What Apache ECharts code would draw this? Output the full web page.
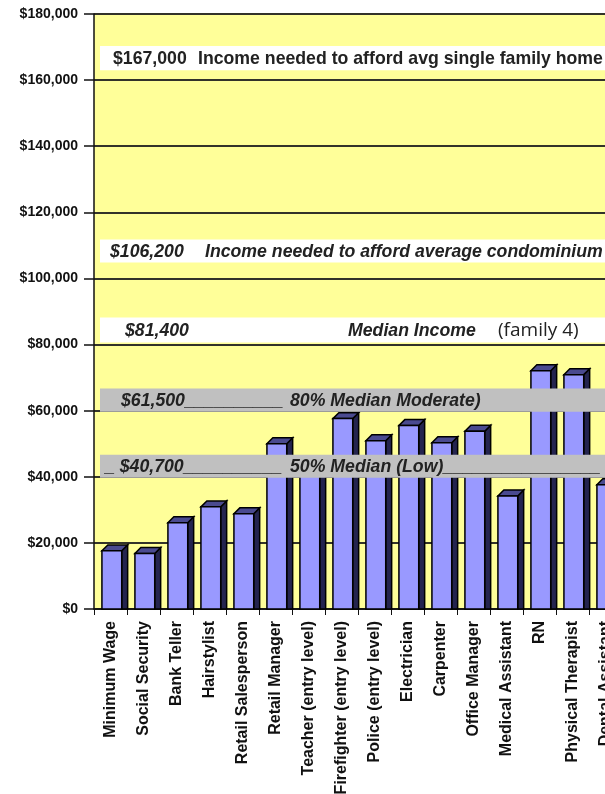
<!DOCTYPE html>
<html>
<head>
<meta charset="utf-8">
<script src="https://cdn.jsdelivr.net/npm/echarts@6/dist/echarts.min.js"></script>
<style>
  html, body { margin: 0; padding: 0; background: #ffffff; }
  #chart { width: 605px; height: 794px; }
</style>
</head>
<body>
<div id="chart"></div>
<script>
  // occupations and yearly income
  const jobs = ['Minimum Wage', 'Social Security', 'Bank Teller', 'Hairstylist', 'Retail Salesperson',
    'Retail Manager', 'Teacher (entry level)', 'Firefighter (entry level)', 'Police (entry level)',
    'Electrician', 'Carpenter', 'Office Manager', 'Medical Assistant', 'RN', 'Physical Therapist',
    'Dental Assistant']
  const salaries = [17600, 16800, 26100, 30900, 28800, 50000, 44000, 57600, 50900, 55500, 50300,
    53800, 34200, 72100, 70900, 37600]

  // reference bands (income levels)
  const bandLow = [163000, 104800, 80600, 59700, 39700]
  const bandHigh = [170300, 111800, 88200, 66700, 46700]
  const bandText = [
    ['$167,000', 'Income needed to afford avg single family home'],
    ['$106,200', 'Income needed to afford average condominium'],
    ['$81,400', 'Median Income', '(family 4)'],
    ['$61,500__________', '80% Median Moderate)'],
    ['_ $40,700__________', '50% Median (Low)________________']
  ]

  // layout of the band texts (x offsets from the plot's left edge)
  const bandLayout = [
    {fill: '#ffffff', italic: false, xs: [19, 104]},
    {fill: '#ffffff', italic: true, xs: [16, 111]},
    {fill: '#ffffff', italic: true, xs: [31, 254, 404]},
    {fill: '#c0c0c0', italic: true, xs: [27, 196]},
    {fill: '#c0c0c0', italic: true, xs: [11, 196]}
  ]

  let myChart = echarts.init(document.getElementById('chart'))

  function renderBar(params, api) {
    let idx = api.value(0)
    let top = api.coord([idx, api.value(1)])
    let base = api.coord([idx, 0])
    let bw = api.size([1, 0])[0]
    let w = bw * 0.6, d = bw * 0.18
    let x0 = top[0] - bw * 0.26
    let x1 = x0 + w
    let y = top[1]
    return {
      type: 'group',
      children: [
        {
          type: 'polygon',
          shape: {points: [[x1, y], [x1 + d, y - d], [x1 + d, base[1]], [x1, base[1]]]},
          style: {fill: '#24244f', stroke: '#000000', lineWidth: 1.5}
        },
        {
          type: 'polygon',
          shape: {points: [[x0, y], [x1, y], [x1 + d, y - d], [x0 + d, y - d]]},
          style: {fill: '#4a4a90', stroke: '#000000', lineWidth: 1.5}
        },
        {
          type: 'rect',
          shape: {x: x0, y: y, width: w, height: base[1] - y},
          style: {fill: '#9999ff', stroke: '#000000', lineWidth: 1.5}
        }
      ]
    }
  }

  function renderBand(params, api) {
    let i = params.dataIndex
    let cs = params.coordSys
    let yTop = api.coord([0, bandHigh[i]])[1]
    let yBot = api.coord([0, bandLow[i]])[1]
    let mid = (yTop + yBot) / 2
    let lay = bandLayout[i]
    let children = [{
      type: 'rect',
      shape: {x: cs.x + 6, y: yTop, width: cs.width + 20, height: yBot - yTop},
      style: {fill: lay.fill}
    }]
    bandText[i].forEach((t, k) => {
      let plain = t.charAt(0) === '('
      children.push({
        type: 'text',
        style: {
          x: cs.x + lay.xs[k],
          y: mid + 1,
          text: t,
          fill: '#222222',
          fontFamily: plain ? '"Open Sans"' : '"Liberation Sans"',
          fontSize: plain ? 19 : 17.7,
          fontWeight: plain ? 'normal' : 'bold',
          fontStyle: (lay.italic && !plain) ? 'italic' : 'normal',
          verticalAlign: 'middle',
          align: 'left'
        }
      })
    })
    return {type: 'group', children: children}
  }

  let option = {
    animation: false,
    backgroundColor: '#ffffff',
    grid: {
      left: 94,
      top: 14,
      width: 528,
      height: 595,
      outerBoundsMode: 'none',
      show: true,
      backgroundColor: '#ffff99',
      borderWidth: 0
    },
    xAxis: {
      type: 'category',
      data: jobs,
      boundaryGap: true,
      axisLine: {lineStyle: {color: '#111111', width: 1.5}},
      axisTick: {show: true, length: 6, lineStyle: {color: '#111111', width: 1}},
      axisLabel: {
        interval: 0,
        rotate: 90,
        margin: 12,
        fontFamily: '"Liberation Sans"',
        fontWeight: 'bold',
        fontSize: 16,
        color: '#111111'
      }
    },
    yAxis: {
      type: 'value',
      min: 0,
      max: 180000,
      interval: 20000,
      axisLine: {show: true, lineStyle: {color: '#111111', width: 1.5}},
      axisTick: {show: true, length: 10, lineStyle: {color: '#111111', width: 1.5}},
      axisLabel: {
        margin: 16,
        fontFamily: '"Liberation Sans"',
        fontWeight: 'bold',
        fontSize: 14,
        color: '#111111',
        formatter: v => '$' + v.toLocaleString('en-US')
      },
      splitLine: {show: true, lineStyle: {color: '#33332a', width: 2}}
    },
    series: [
      {
        type: 'custom',
        name: 'Income',
        renderItem: renderBar,
        encode: {x: 0, y: 1},
        data: salaries.map((v, i) => [i, v]),
        z: 3
      },
      {
        type: 'custom',
        name: 'Bands',
        renderItem: renderBand,
        encode: {x: 0, y: [1, 2]},
        data: bandLow.map((v, i) => [0, v, bandHigh[i]]),
        z: 5
      }
    ]
  }

  myChart.setOption(option)
</script>
</body>
</html>
